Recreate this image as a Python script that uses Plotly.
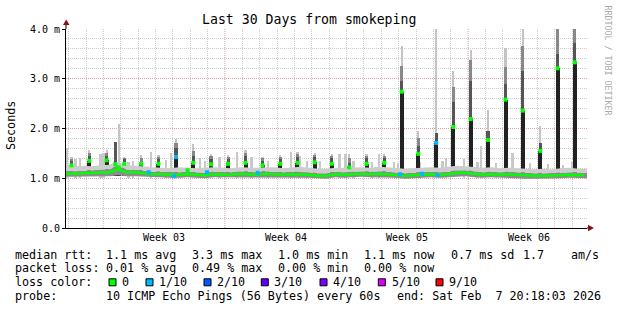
import plotly.graph_objects as go
import numpy as np

# ---------------- data (ms, hours since window start) ----------------
base_hours = list(range(0, 721, 12))
base_median = [1.09,1.09,1.10,1.11,1.11,1.12,1.18,1.12,1.12,1.10,
               1.08,1.08,1.07,1.07,1.08,1.07,1.06,1.08,1.08,1.07,
               1.09,1.08,1.07,1.09,1.08,1.07,1.08,1.08,1.07,1.05,
               1.05,1.08,1.07,1.08,1.09,1.08,1.09,1.08,1.07,1.05,
               1.06,1.07,1.08,1.07,1.08,1.11,1.11,1.09,1.07,1.08,
               1.07,1.08,1.07,1.05,1.05,1.05,1.05,1.06,1.07,1.06,1.06]
smoke_lo = [1.03,1.03,1.04,1.04,1.04,1.04,1.06,1.04,1.04,1.03,
            1.02,1.02,1.01,1.01,1.02,1.01,1.00,1.02,1.02,1.01,
            1.02,1.02,1.01,1.02,1.02,1.01,1.02,1.02,1.01,1.00,
            0.99,1.02,1.01,1.02,1.03,1.02,1.02,1.02,1.01,0.99,
            1.00,1.01,1.02,1.01,1.02,1.04,1.04,1.02,1.01,1.02,
            1.01,1.01,1.00,0.99,0.99,0.99,0.99,1.00,1.01,1.00,1.00]
smoke_mid = [1.15,1.14,1.15,1.16,1.16,1.18,1.25,1.17,1.17,1.15,
             1.13,1.13,1.12,1.12,1.13,1.12,1.11,1.13,1.13,1.12,
             1.14,1.13,1.12,1.14,1.13,1.12,1.13,1.13,1.12,1.10,
             1.10,1.13,1.12,1.13,1.14,1.13,1.14,1.13,1.12,1.10,
             1.11,1.12,1.13,1.12,1.13,1.16,1.16,1.14,1.12,1.13,
             1.12,1.13,1.12,1.10,1.10,1.10,1.10,1.11,1.12,1.11,1.11]
smoke_hi = [1.28,1.24,1.25,1.24,1.26,1.27,1.33,1.26,1.25,1.23,
            1.22,1.21,1.20,1.22,1.21,1.20,1.21,1.22,1.21,1.20,
            1.22,1.21,1.21,1.22,1.22,1.20,1.21,1.23,1.21,1.19,
            1.19,1.21,1.21,1.22,1.22,1.21,1.23,1.22,1.20,1.19,
            1.20,1.21,1.22,1.21,1.23,1.25,1.24,1.22,1.21,1.22,
            1.20,1.21,1.20,1.18,1.18,1.19,1.18,1.20,1.21,1.19,1.19]

bump_hours = [1, 13, 19.3, 47.7, 52, 86.7, 92.6, 117.5, 138, 145, 185, 192, 212, 236,
              256, 279, 311, 323, 333, 351, 378, 386, 397, 423, 432.6, 453, 459, 489,
              520, 525, 550, 569, 573.6, 594, 617, 641, 666, 687, 699]
bump_top = [1.60, 1.38, 1.40, 1.49, 1.50, 1.33, 1.35, 1.53, 1.36, 1.50, 1.40, 1.35, 1.43, 1.53,
            1.43, 1.35, 1.53, 1.45, 1.35, 1.35, 1.49, 1.49, 1.35, 1.33, 1.49, 1.32, 1.30, 1.33,
            1.34, 1.41, 1.39, 1.33, 1.65, 1.30, 1.50, 1.30, 1.28, 1.26, 1.33]

spike_hours = [7.6, 32.2, 56.2, 68.1, 72.8, 80.6, 103.9, 127.8, 152.0, 168.0, 175.9, 200.4,
               223.9, 248.1, 271.6, 296.2, 319.9, 343.7, 367.3, 391.5, 415.3, 439.9, 463.9,
               486.9, 511.6, 535.2, 559.3, 583.2, 607.4, 631.2, 655.5, 679.3, 703.2]
spike_med = [1.26, 1.35, 1.36, 1.28, 1.22, 1.29, 1.29, 1.29, 1.43, 1.16, 1.31, 1.28,
             1.29, 1.31, 1.26, 1.29, 1.31, 1.32, 1.29, 1.22, 1.29, 1.31, 2.74,
             1.49, 1.71, 2.03, 2.19, 1.77, 2.58, 2.36, 1.55, 3.21, 3.33]
spike_q1 = [1.35, 1.45, 1.45, 1.73, 1.30, 1.38, 1.33, 1.38, 1.60, 1.18, 1.45, 1.38,
            1.38, 1.45, 1.35, 1.38, 1.42, 1.42, 1.40, 1.30, 1.40, 1.40, 2.95,
            1.65, 1.90, 2.53, 2.96, 1.95, 2.89, 3.15, 1.70, 3.50, 3.71]
spike_q2 = [1.38, 1.50, 1.50, 1.73, 1.30, 1.40, 1.40, 1.42, 1.70, 1.18, 1.55, 1.44,
            1.42, 1.50, 1.40, 1.42, 1.48, 1.46, 1.45, 1.40, 1.45, 1.45, 3.25,
            1.80, 1.90, 2.83, 3.37, 1.95, 3.23, 3.66, 1.70, 4.10, 4.10]
spike_max = [1.43, 1.56, 1.57, 1.73, 2.10, 1.43, 1.46, 1.46, 1.79, 1.20, 1.69, 1.49,
             1.46, 1.56, 1.43, 1.46, 1.53, 1.51, 1.49, 1.49, 1.49, 1.49, 3.65,
             1.94, 4.10, 3.16, 3.57, 2.38, 3.61, 4.10, 2.05, 4.10, 4.10]
spike_loss = [0, 0, 0, 0, 0, 0, 0, 0, 1, 0, 0, 0,
              0, 0, 0, 0, 0, 0, 0, 0, 0, 0, 0,
              0, 1, 0, 0, 0, 0, 0, 0, 0, 0]

loss_pt_hours = [114.3, 149.3, 194.9, 265.0, 461.6, 492.0, 513.5]
loss_pt_value = [1.12, 1.04, 1.12, 1.11, 1.08, 1.09, 1.06]

week_labels = ["Week 03", "Week 04", "Week 05", "Week 06"]
first_sunday_h = 51.7      # Sun Jan 11 00:00 relative to window start (Jan 8 20:18:03)
first_midnight_h = 3.7     # Fri Jan 9 00:00
y_ticks = [0, 1, 2, 3, 4]
y_ticktext = ["0.0", "1.0 m", "2.0 m", "3.0 m", "4.0 m"]

legend_rows = [
    [("median rtt:", 16), ("1.1 ms avg", 107.3), ("3.3 ms max", 193.3), ("1.0 ms min", 279.3),
     ("1.1 ms now", 365), ("0.7 ms sd", 451.7), ("1.7", 524), ("am/s", 571.7)],
    [("packet loss:", 16), ("0.01 % avg", 107.3), ("0.49 % max", 193.3), ("0.00 % min", 279.3),
     ("0.00 % now", 365)],
    [("loss color:", 16)],
    [("probe:", 16), ("10 ICMP Echo Pings (56 Bytes) every 60s", 107.3),
     ("end: Sat Feb  7 20:18:03 2026", 398.3)],
]
loss_names = ["0", "1/10", "2/10", "3/10", "4/10", "5/10", "9/10"]
loss_colors = ["#00ff00", "#00b8ff", "#0059ff", "#5e00ff", "#7e00ff", "#dd00ff", "#ff0000"]

# ---------------- geometry ----------------
W, H = 617, 310
L, R, T, B = 66, 30, 29, 82
PW, PH = W - L - R, H - T - B
def px(x): return (x - L) / PW
def py(y): return (H - B - y) / PH

FONT = "DejaVu Sans Mono"
GRID_GREY = "#cccccc"
GRID_RED = "#eaa0a0"
fig = go.Figure()

# light smoke bumps (under the baseline smoke)
fig.add_trace(go.Bar(x=bump_hours, y=[t - 1.0 for t in bump_top], base=1.0, width=3.5,
                     marker=dict(color="#c8c8c8", line_width=0), hoverinfo="skip"))

# baseline smoke
fig.add_trace(go.Scatter(x=base_hours, y=smoke_lo, mode="lines", line=dict(width=0),
                         hoverinfo="skip"))
fig.add_trace(go.Scatter(x=base_hours, y=smoke_mid, mode="lines", line=dict(width=0),
                         fill="tonexty", fillcolor="#8c8c8c", hoverinfo="skip"))
fig.add_trace(go.Scatter(x=base_hours, y=smoke_hi, mode="lines", line=dict(width=0),
                         fill="tonexty", fillcolor="#cdcdcd", hoverinfo="skip"))

# spikes
med = np.array(spike_med); q1 = np.array(spike_q1); q2 = np.array(spike_q2); mx = np.array(spike_max)
base_spk = 1.04
for lo, hi, col, wd in [(q2, mx, "#c4c4c4", 3.0), (q1, q2, "#888888", 4.2),
                        (med, q1, "#555555", 4.2)]:
    fig.add_trace(go.Bar(x=spike_hours, y=hi - lo, base=lo, width=wd,
                         marker=dict(color=col, line_width=0), hoverinfo="skip"))
fig.add_trace(go.Bar(x=spike_hours, y=med - base_spk, base=base_spk, width=5.5,
                     marker=dict(color="#222222", line_width=0), hoverinfo="skip"))

# median line coloured by loss
fig.add_trace(go.Scatter(x=base_hours[:-1] + [716], y=base_median, mode="lines",
                         line=dict(color=loss_colors[0], width=2.5), hoverinfo="skip"))
fig.add_trace(go.Scatter(x=spike_hours, y=spike_med, mode="markers",
                         marker=dict(symbol="square", size=4,
                                     color=[loss_colors[l] for l in spike_loss]),
                         hoverinfo="skip"))
fig.add_trace(go.Scatter(x=loss_pt_hours, y=loss_pt_value, mode="markers",
                         marker=dict(symbol="square", size=4, color=loss_colors[1]),
                         hoverinfo="skip"))

sundays = [first_sunday_h + 168 * i for i in range(4)]
days = [first_midnight_h + 24 * i for i in range(30)]

fig.update_layout(
    width=W, height=H, margin=dict(l=L, r=R, t=T, b=B, pad=0),
    paper_bgcolor="white", plot_bgcolor="white", showlegend=False, barmode="overlay",
    bargap=0,
    font=dict(family=FONT, color="#000000"),
    xaxis=dict(range=[0, 720], tickmode="array", tickvals=days, showticklabels=False,
               showgrid=True, gridcolor=GRID_GREY, griddash="1px,1px", gridwidth=1,
               showline=True, linecolor="#000000", linewidth=1, zeroline=False, ticks=""),
    yaxis=dict(range=[0, 4], tickmode="array", tickvals=y_ticks, ticktext=y_ticktext,
               showgrid=True, gridcolor=GRID_RED, griddash="1px,1px", gridwidth=1,
               minor=dict(tick0=0, dtick=0.2, showgrid=True, gridcolor=GRID_GREY,
                          griddash="1px,1px", gridwidth=1),
               showline=True, linecolor="#000000", linewidth=1, zeroline=False,
               ticks="outside", ticklen=3, tickcolor="#000000",
               tickfont=dict(family=FONT, size=10, color="#000000")),
)

ann = []
def label(text, x, y, size=11.7, xanchor="left", color="#000000", angle=0):
    ann.append(dict(text=text, x=px(x), y=py(y), xref="paper", yref="paper",
                    xanchor=xanchor, yanchor="middle", showarrow=False, textangle=angle,
                    font=dict(family=FONT, size=size, color=color)))

label("Last 30 Days from smokeping", 308.5, 19, size=13.2, xanchor="center")
label("Seconds", 11, 126, size=11.7, xanchor="center", angle=-90)
label("RRDTOOL / TOBI OETIKER", 607.5, 60, size=8.3, xanchor="center", color="#aaaaaa", angle=90)

for s, name in zip(sundays, week_labels):
    ann.append(dict(text=name, x=s + 84, y=py(237.7), xref="x", yref="paper",
                    xanchor="center", yanchor="middle", showarrow=False,
                    font=dict(family=FONT, size=10, color="#000000")))

row_y = [254.7, 268.3, 282.3, 296.0]
for row, yy in zip(legend_rows, row_y):
    for text, x in row:
        label(text, x - 3, yy)

shapes = []
# weekly (Sunday) major grid lines in red, below the data
for s in sundays:
    shapes.append(dict(type="line", xref="x", yref="paper", x0=s, x1=s, y0=0, y1=1,
                       layer="below", line=dict(color=GRID_RED, width=1, dash="1px,1px")))

sw_x = [109, 146, 204, 261.3, 320, 378.3, 436]
txt_x = [123.3, 160, 218.3, 275.3, 334.3, 392.7, 450]
for sx, tx, name, col in zip(sw_x, txt_x, loss_names, loss_colors):
    shapes.append(dict(type="rect", xref="paper", yref="paper", x0=px(sx), x1=px(sx + 7),
                       y0=py(row_y[2] + 3.5), y1=py(row_y[2] - 3.5),
                       fillcolor=col, line=dict(color="#000000", width=1)))
    label(name, tx - 3, row_y[2])

arrow_col = "#8b1010"
shapes.append(dict(type="line", xref="paper", yref="paper", x0=px(66), x1=px(66),
                   y0=py(29), y1=py(22), line=dict(color="#000000", width=1)))
shapes.append(dict(type="path", xref="paper", yref="paper",
                   path=f"M {px(63)},{py(25)} L {px(69.5)},{py(25)} L {px(66.2)},{py(19.5)} Z",
                   fillcolor=arrow_col, line=dict(width=0)))
shapes.append(dict(type="line", xref="paper", yref="paper", x0=px(587), x1=px(590),
                   y0=py(228), y1=py(228), line=dict(color="#000000", width=1)))
shapes.append(dict(type="path", xref="paper", yref="paper",
                   path=f"M {px(588)},{py(224.8)} L {px(588)},{py(231.2)} L {px(594)},{py(228)} Z",
                   fillcolor=arrow_col, line=dict(width=0)))

fig.update_layout(annotations=ann, shapes=shapes)
fig.write_html("out.html")
